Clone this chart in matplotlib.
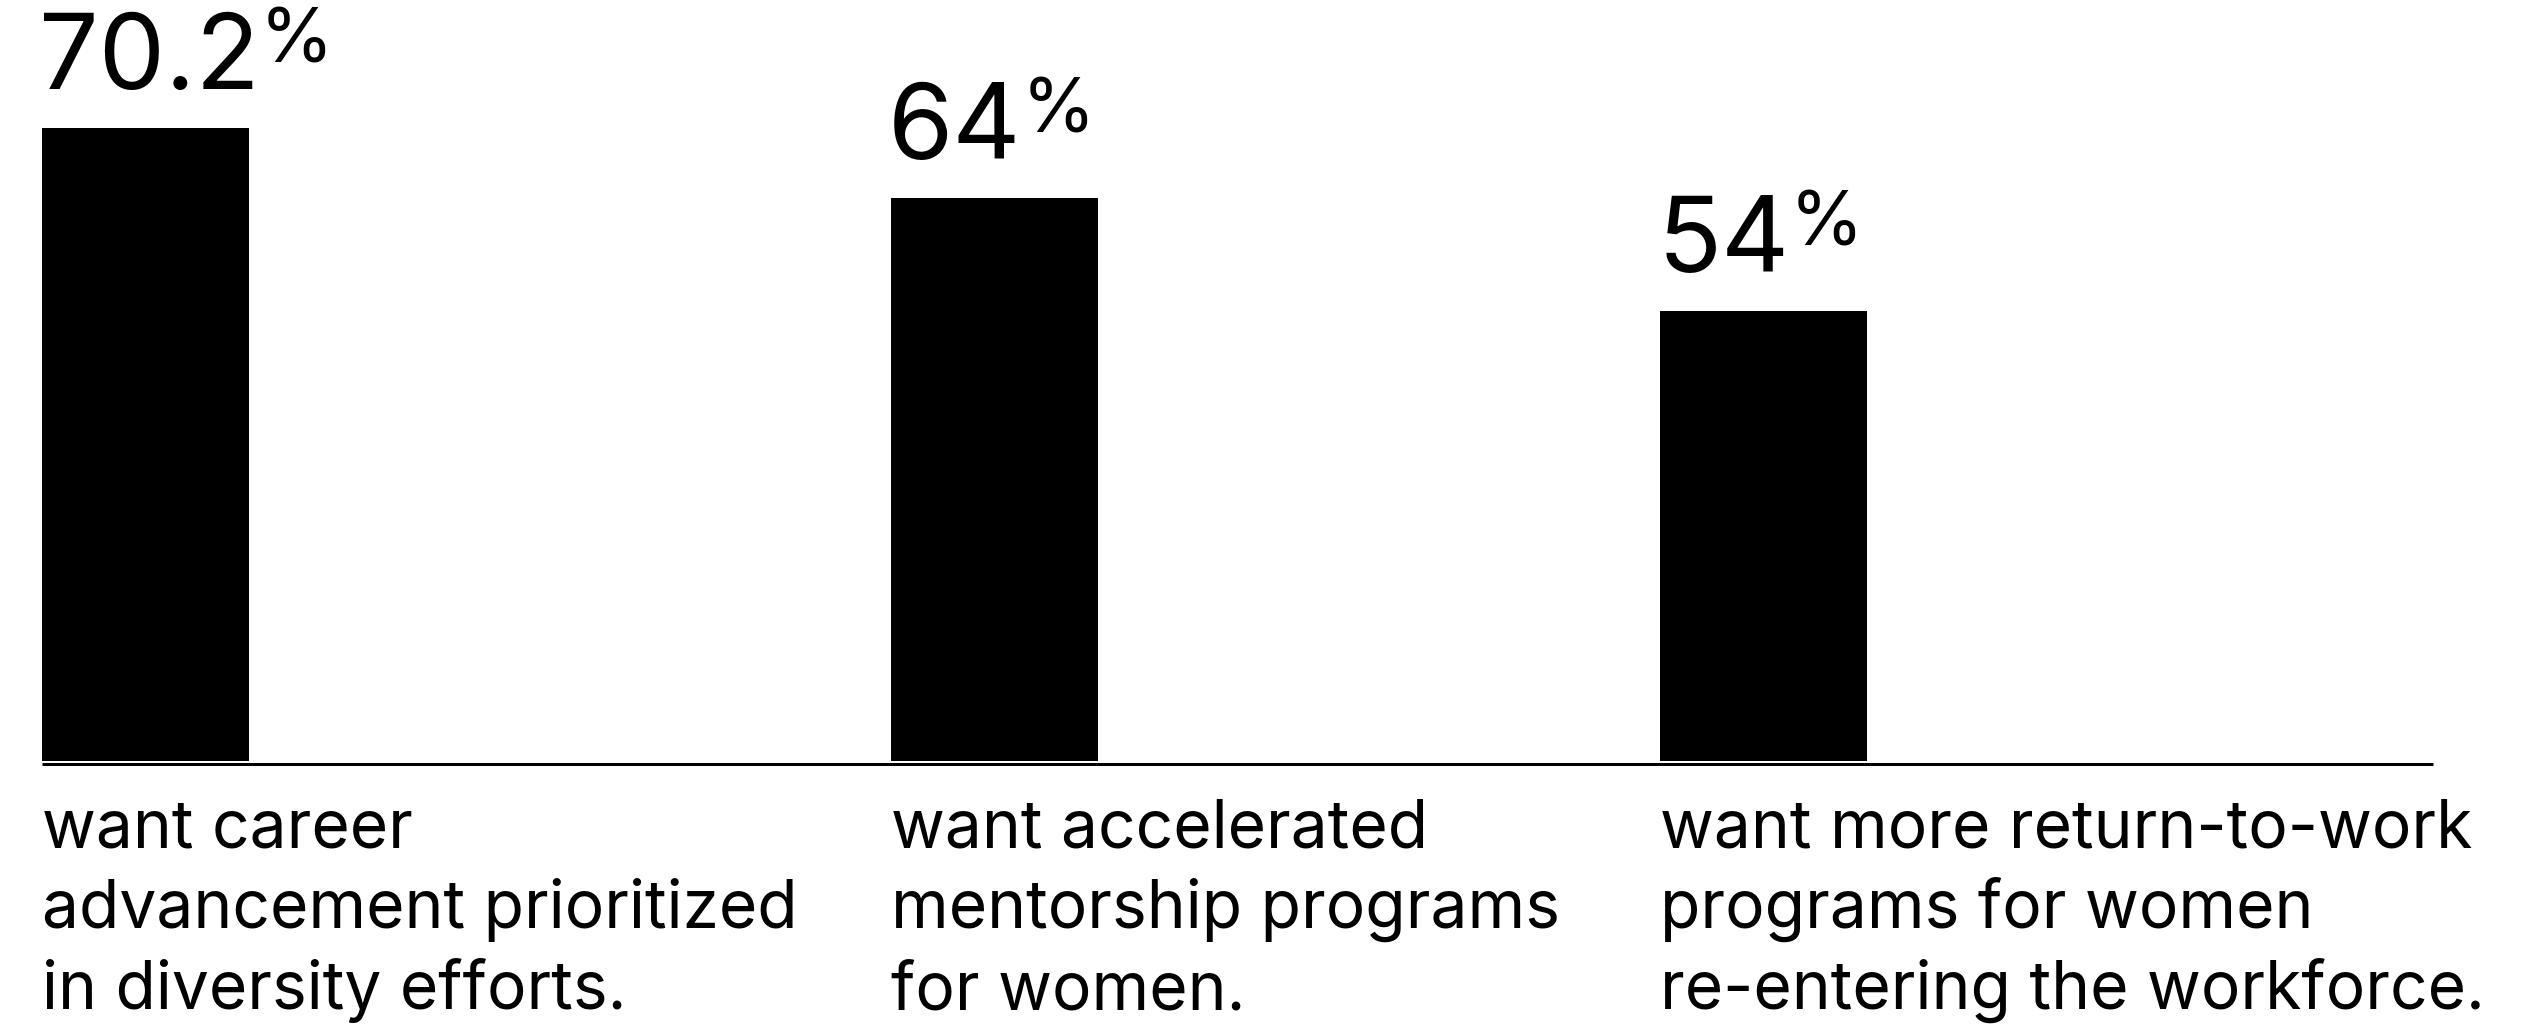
import matplotlib
matplotlib.use('Agg')
import matplotlib.pyplot as plt

# survey results
categories = [
    ['want career', 'advancement prioritized', 'in diversity efforts.'],
    ['want accelerated', 'mentorship programs', 'for women.'],
    ['want more return-to-work', 'programs for women', 're-entering the workforce.'],
]
values = [70.2, 64, 54]
value_labels = ['70.2', '64', '54']

# layout (pixels, figure is 2535 x 1024 at dpi 100)
W, H, DPI = 2535, 1024, 100
BASE_Y = 760.5          # baseline of the bars, from top
PX_PER_UNIT = 11.296
Y_MIN = 14.2
COL_LEFT = [42, 891, 1660]
BAR_W = 207
AXIS_END = 2433
LINE1_Y = 847           # first caption baseline, from top
LINE_STEP = 81

FONT = 'Inter'
NUM_SIZE = 76
NUM_RAISE = 28          # points between bar top and number baseline
CAP = 0.727 * NUM_SIZE

fig = plt.figure(figsize=(W / DPI, H / DPI), dpi=DPI)
ax = fig.add_axes([0, 1 - BASE_Y / H, 1, BASE_Y / H])
ax.set_xlim(0, W)
ax.set_ylim(Y_MIN, Y_MIN + BASE_Y / PX_PER_UNIT)
ax.axis('off')

ax.bar(COL_LEFT, [v - Y_MIN for v in values], bottom=Y_MIN, width=BAR_W,
       align='edge', color='black', linewidth=0)

# baseline rule
ax.plot([COL_LEFT[0], AXIS_END], [Y_MIN - 3 / PX_PER_UNIT] * 2, color='black',
        lw=3 * 72 / DPI, solid_capstyle='butt', clip_on=False)

for left, v, lab in zip(COL_LEFT, values, value_labels):
    t = ax.annotate(lab, xy=(left, v), xytext=(-2, NUM_RAISE), textcoords='offset points',
                    fontsize=NUM_SIZE, family=FONT, va='baseline', ha='left')
    # small raised percent sign right after the number
    ax.annotate('%', xy=(1, v), xycoords=(t, 'data'),
                xytext=(0, NUM_RAISE + CAP + 3.5), textcoords='offset points',
                fontsize=54, family=FONT, va='top', ha='left')

for left, lines in zip(COL_LEFT, categories):
    for i, line in enumerate(lines):
        y = LINE1_Y + i * LINE_STEP
        fig.text(left / W, 1 - y / H, line, fontsize=47.4, family=FONT,
                 va='baseline', ha='left')

fig.savefig('out.png', dpi=DPI, facecolor='white')
